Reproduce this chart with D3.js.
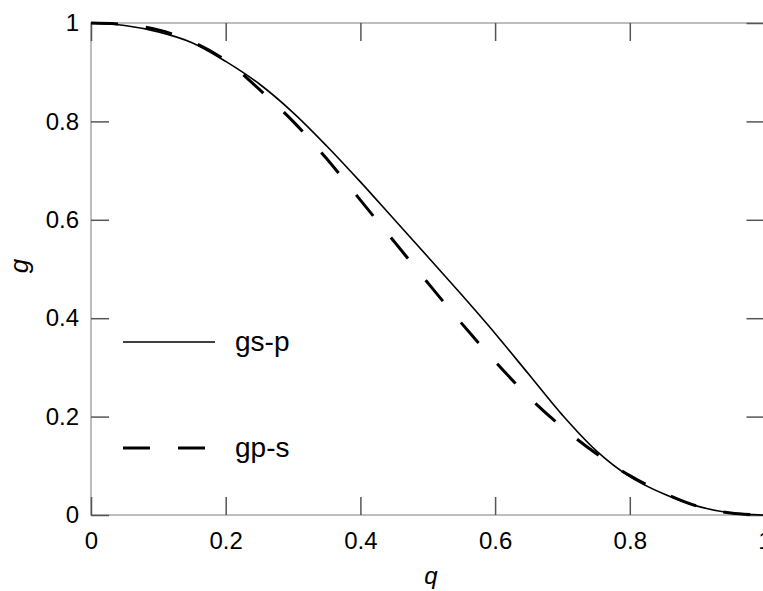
<!DOCTYPE html>
<html>
<head>
<meta charset="utf-8">
<script src="https://cdn.jsdelivr.net/npm/d3@7"></script>
<style>
  body { margin: 0; background: #fff; }
  svg { display: block; font-family: "Liberation Sans", Arial, sans-serif; }
</style>
</head>
<body>
<div id="chart"></div>
<script>
// values
var qValues = [0, 0.05, 0.1, 0.15, 0.2, 0.25, 0.3, 0.35, 0.4, 0.45, 0.5,
               0.55, 0.6, 0.65, 0.7, 0.75, 0.8, 0.85, 0.9, 0.95, 1];
var gsp = [1, 0.995, 0.982, 0.960, 0.922, 0.876, 0.818, 0.750, 0.677, 0.601, 0.525,
           0.448, 0.369, 0.286, 0.203, 0.131, 0.078, 0.043, 0.018, 0.004, 0];
var gps = [1, 0.997, 0.986, 0.962, 0.924, 0.865, 0.800, 0.724, 0.640, 0.556, 0.472,
           0.390, 0.312, 0.240, 0.178, 0.125, 0.080, 0.045, 0.018, 0.004, 0];
var xTicks = [0, 0.2, 0.4, 0.6, 0.8, 1];
var yTicks = [0, 0.2, 0.4, 0.6, 0.8, 1];
var seriesNames = ['gs-p', 'gp-s'];

var W = 763, H = 591;
var plotL = 91, plotR = 764.5, plotT = 23, plotB = 515;

var svg = d3.select('#chart').append('svg')
  .attr('width', W)
  .attr('height', H);

var x = d3.scaleLinear().domain([0, 1]).range([plotL, plotR]);
var y = d3.scaleLinear().domain([0, 1]).range([plotB, plotT]);

// frame
svg.append('rect')
  .attr('x', plotL).attr('y', plotT)
  .attr('width', plotR - plotL).attr('height', plotB - plotT)
  .attr('fill', 'none')
  .attr('stroke', '#a8a8a8')
  .attr('stroke-width', 1.5);

function styleAxis(g, fs) {
  g.select('.domain').remove();
  g.selectAll('.tick line').attr('stroke', '#555').attr('stroke-width', 1.5);
  g.selectAll('.tick text').attr('fill', '#000').style('font-size', fs + 'px')
    .style('font-family', '"Liberation Sans", Arial, sans-serif');
}

svg.append('g')
  .attr('transform', 'translate(0,' + plotB + ')')
  .call(d3.axisBottom(x).tickValues(xTicks).tickSize(-18).tickPadding(17)
    .tickFormat(d3.format('')))
  .call(styleAxis, 24);

svg.append('g')
  .attr('transform', 'translate(' + plotL + ',0)')
  .call(d3.axisLeft(y).tickValues(yTicks).tickSize(-18).tickPadding(12)
    .tickFormat(d3.format('')))
  .call(styleAxis, 24);

svg.append('g')
  .attr('transform', 'translate(0,' + plotT + ')')
  .call(d3.axisTop(x).tickValues(xTicks).tickSize(-18).tickFormat(''))
  .call(styleAxis, 24);

svg.append('g')
  .attr('transform', 'translate(' + plotR + ',0)')
  .call(d3.axisRight(y).tickValues(yTicks).tickSize(-18).tickFormat(''))
  .call(styleAxis, 24);

// axis titles
svg.append('text')
  .attr('x', 431).attr('y', 584)
  .attr('text-anchor', 'middle')
  .style('font-size', '24px')
  .style('font-style', 'italic')
  .text('q');

svg.append('text')
  .attr('transform', 'translate(28,266) rotate(-90)')
  .attr('text-anchor', 'middle')
  .style('font-size', '26px')
  .style('font-style', 'italic')
  .text('g');

// curves
var line = d3.line()
  .x(function (d) { return x(d[0]); })
  .y(function (d) { return y(d[1]); })
  .curve(d3.curveCatmullRom);

var styles = [
  { width: 1.6, dash: null },
  { width: 3, dash: '27,28' }
];

[gsp, gps].forEach(function (vals, i) {
  svg.append('path')
    .datum(qValues.map(function (q, j) { return [q, vals[j]]; }))
    .attr('d', line)
    .attr('fill', 'none')
    .attr('stroke', '#000')
    .attr('stroke-width', styles[i].width)
    .attr('stroke-dasharray', styles[i].dash);
});

// legend
var legendY = [342, 448];
seriesNames.forEach(function (name, i) {
  svg.append('line')
    .attr('x1', 123).attr('x2', 215)
    .attr('y1', legendY[i]).attr('y2', legendY[i])
    .attr('stroke', '#000')
    .attr('stroke-width', styles[i].width)
    .attr('stroke-dasharray', styles[i].dash);
  svg.append('text')
    .attr('x', 235).attr('y', legendY[i] + 9)
    .style('font-size', '28px')
    .text(name);
});
</script>
</body>
</html>
